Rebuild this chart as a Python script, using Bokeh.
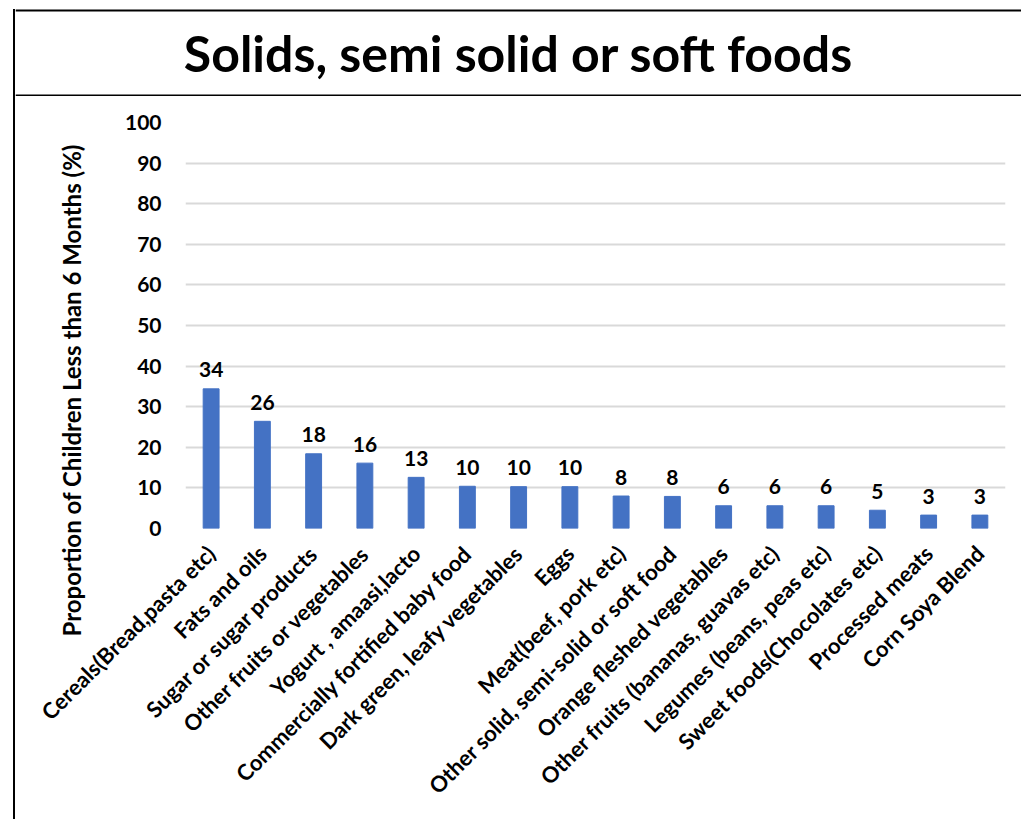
import math
from bokeh.plotting import figure
from bokeh.layouts import column
from bokeh.models import ColumnDataSource, FactorRange, Range1d, FixedTicker, Title
from bokeh.core.properties import value
from bokeh.embed import file_html
from bokeh.resources import INLINE

categories = [
    "Cereals(Bread,pasta etc)",
    "Fats and oils",
    "Sugar or sugar products",
    "Other fruits or vegetables",
    "Yogurt , amaasi,lacto",
    "Commercially fortified baby food",
    "Dark green, leafy vegetables",
    "Eggs",
    "Meat(beef, pork etc)",
    "Other solid, semi-solid or soft food",
    "Orange fleshed vegetables",
    "Other fruits (bananas, guavas etc)",
    "Legumes (beans, peas etc)",
    "Sweet foods(Chocolates etc)",
    "Processed meats",
    "Corn Soya Blend",
]
values = [34.4, 26.4, 18.4, 16.1, 12.6, 10.4, 10.3, 10.3, 8.0, 7.9, 5.6, 5.6, 5.6, 4.5, 3.3, 3.3]
labels = ["34", "26", "18", "16", "13", "10", "10", "10", "8", "8", "6", "6", "6", "5", "3", "3"]
y_ticks = [0, 10, 20, 30, 40, 50, 60, 70, 80, 90, 100]
title_text = "Solids, semi solid or soft foods"
y_title = "Proportion of Children Less than 6 Months (%)"

FONT = "Lato"
BAR = "#4472C4"
W = 1006

# Title box
tf = figure(width=W, height=87, x_range=Range1d(0, 1), y_range=Range1d(0, 1),
            toolbar_location=None, output_backend="svg", min_border=0,
            x_axis_location=None, y_axis_location=None)
tf.frame_align = False
tf.grid.visible = False
tf.outline_line_color = None
tf.segment(x0=[0, 0], y0=[1, 0], x1=[1, 1], y1=[1, 0], line_color="black", line_width=4)
tf.text(x=[0.5], y=[0.5], text=[title_text], text_align="center", text_baseline="middle",
        text_font=value(FONT), text_font_style="bold", text_font_size="50px", text_color="black")

# Main chart
src = ColumnDataSource(dict(cat=categories, val=values, lab=labels))
p = figure(width=W, height=723, x_range=FactorRange(*categories), y_range=Range1d(0, 100),
           toolbar_location=None, output_backend="svg",
           min_border_left=170, min_border_right=16, min_border_top=26, min_border_bottom=291)
p.frame_align = False
p.outline_line_color = None

p.vbar(x="cat", top="val", width=0.31, source=src, fill_color=BAR, line_color=BAR)
p.text(x="cat", y="val", text="lab", source=src, text_align="center", text_baseline="alphabetic",
       y_offset=-19, text_font=value(FONT), text_font_style="bold", text_font_size="21px",
       text_color="black")

p.xgrid.grid_line_color = None
p.ygrid.grid_line_color = "#D9D9D9"
p.ygrid.grid_line_width = 2
p.ygrid.ticker = FixedTicker(ticks=y_ticks)

p.yaxis.ticker = FixedTicker(ticks=y_ticks)
p.yaxis.axis_line_color = None
p.yaxis.major_tick_line_color = None
p.yaxis.minor_tick_line_color = None
p.yaxis.major_label_standoff = 18
p.yaxis.major_label_text_font = FONT
p.yaxis.major_label_text_font_style = "bold"
p.yaxis.major_label_text_font_size = "21px"
p.yaxis.major_label_text_color = "black"

# y-axis title, placed lower than the frame centre as in the reference
p.add_layout(Title(text=y_title, align="left", offset=-108, vertical_align="bottom",
                   standoff=72, text_font=FONT, text_font_style="bold",
                   text_font_size="24px", text_color="black"), "left")

p.xaxis.axis_line_color = None
p.xaxis.major_tick_line_color = None
p.xaxis.minor_tick_line_color = None
p.xaxis.major_label_orientation = math.pi / 4
p.xaxis.major_label_standoff = 15
p.xaxis.major_label_text_font = FONT
p.xaxis.major_label_text_font_style = "bold"
p.xaxis.major_label_text_font_size = "22px"
p.xaxis.major_label_text_color = "black"

layout = column(tf, p, spacing=0,
                styles={"margin-left": "13px", "margin-top": "9px",
                        "border-left": "2px solid black"})
open("out.html", "w").write(file_html(layout, INLINE))
